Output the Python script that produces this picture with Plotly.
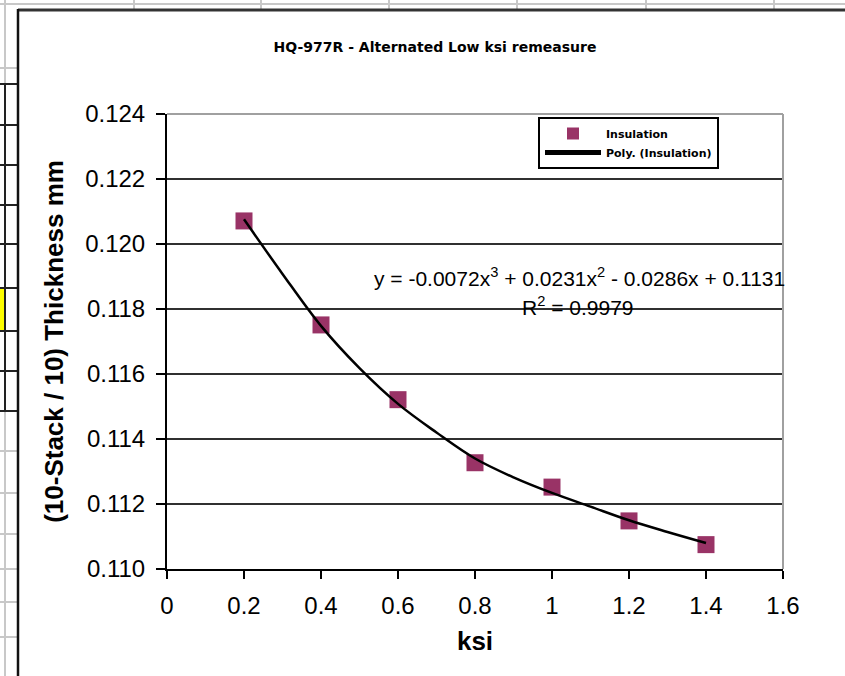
import plotly.graph_objects as go

# ---- data ----
ksi = [0.2, 0.4, 0.6, 0.8, 1.0, 1.2, 1.4]
thickness = [0.12071, 0.11751, 0.11521, 0.11327, 0.11252, 0.11148, 0.11075]

trend_x = [0.2, 0.3, 0.4, 0.5, 0.6, 0.7, 0.8, 0.9, 1.0, 1.1, 1.2, 1.3, 1.4]
trend_y = [0.12076, 0.11908, 0.11748, 0.11618, 0.11508, 0.11420, 0.11340,
           0.11282, 0.11234, 0.11192, 0.11150, 0.11114, 0.11080]

title_text = "HQ-977R - Alternated Low ksi remeasure"
x_title = "ksi"
y_title = "(10-Stack / 10) Thickness mm"
eq_line1 = "y = -0.0072x<sup>3</sup> + 0.0231x<sup>2</sup> - 0.0286x + 0.1131"
eq_line2 = "R<sup>2</sup> = 0.9979"

# ---- layout geometry (pixels) ----
W, H = 845, 676
L, R, T, B = 167, 62, 114, 107
PW, PH = W - L - R, H - T - B


def px(x):
    return (x - L) / PW


def py(y):
    return (H - B - y) / PH


fig = go.Figure()
fig.add_trace(go.Scatter(
    x=ksi, y=thickness, mode="markers", name="Insulation",
    marker=dict(symbol="square", size=17, color="#993366"),
))
fig.add_trace(go.Scatter(
    x=trend_x, y=trend_y, mode="lines", name="Poly. (Insulation)",
    line=dict(color="black", width=2.5, shape="spline"),
))

shapes = []
grid_c = "#c8c8c8"
# spreadsheet grid: top strip
shapes.append(dict(type="line", xref="paper", yref="paper", x0=px(0), x1=px(W), y0=py(4), y1=py(4),
                   line=dict(color=grid_c, width=2)))
for vx in [5, 134, 261, 389, 517, 646, 774]:
    shapes.append(dict(type="line", xref="paper", yref="paper", x0=px(vx), x1=px(vx), y0=py(0), y1=py(9),
                       line=dict(color=grid_c, width=2)))
# left strip
shapes.append(dict(type="line", xref="paper", yref="paper", x0=px(5), x1=px(5), y0=py(0), y1=py(84),
                   line=dict(color=grid_c, width=2)))
shapes.append(dict(type="line", xref="paper", yref="paper", x0=px(5), x1=px(5), y0=py(411), y1=py(H),
                   line=dict(color=grid_c, width=2)))
for hy in [68, 451, 493, 534, 569, 602, 637]:
    shapes.append(dict(type="line", xref="paper", yref="paper", x0=px(0), x1=px(18), y0=py(hy), y1=py(hy),
                       line=dict(color=grid_c, width=2)))
# yellow cell
shapes.append(dict(type="rect", xref="paper", yref="paper", x0=px(-2), x1=px(5), y0=py(331), y1=py(288),
                   fillcolor="#ffff00", line=dict(color="black", width=2)))
shapes.append(dict(type="line", xref="paper", yref="paper", x0=px(5), x1=px(5), y0=py(84), y1=py(411),
                   line=dict(color="#222", width=2)))
for hy in [84, 125, 165, 205, 244, 288, 331, 371, 411]:
    shapes.append(dict(type="line", xref="paper", yref="paper", x0=px(0), x1=px(18), y0=py(hy), y1=py(hy),
                       line=dict(color="#222", width=2)))
# chart area border
shapes.append(dict(type="line", xref="paper", yref="paper", x0=px(18), x1=px(W + 5), y0=py(10), y1=py(10),
                   line=dict(color="#333", width=3)))
shapes.append(dict(type="line", xref="paper", yref="paper", x0=px(18), x1=px(18), y0=py(9), y1=py(H + 5),
                   line=dict(color="#111", width=2.5)))
# plot area border (top & right, gray)
shapes.append(dict(type="line", xref="paper", yref="paper", x0=0, x1=1, y0=1, y1=1,
                   line=dict(color="#a0a0a0", width=2), layer="above"))
shapes.append(dict(type="line", xref="paper", yref="paper", x0=1, x1=1, y0=0, y1=1,
                   line=dict(color="#a0a0a0", width=2), layer="above"))

annotations = [
    dict(text=eq_line1, xref="paper", yref="paper", x=px(579), y=py(277), xanchor="center", yanchor="middle",
         showarrow=False, font=dict(family="Liberation Sans, Arial", size=21, color="black")),
    dict(text=eq_line2, xref="paper", yref="paper", x=px(578), y=py(306), xanchor="center", yanchor="middle",
         showarrow=False, font=dict(family="Liberation Sans, Arial", size=21, color="black")),
]

fig.update_layout(
    width=W, height=H,
    margin=dict(l=L, r=R, t=T, b=B, autoexpand=False),
    paper_bgcolor="white", plot_bgcolor="white",
    font=dict(family="Liberation Sans, Arial", color="black"),
    title=dict(text=title_text, x=px(435), xref="paper", xanchor="center", y=1 - 47 / H, yref="container",
               yanchor="middle", font=dict(family="DejaVu Sans", size=14, weight="bold", color="black")),
    showlegend=True,
    legend=dict(x=px(538), y=py(117), xanchor="left", yanchor="top", bgcolor="white",
                bordercolor="black", borderwidth=2, itemsizing="constant", itemwidth=56,
                font=dict(family="DejaVu Sans", size=11, weight="bold", color="black")),
    shapes=shapes,
    annotations=annotations,
    xaxis=dict(range=[0, 1.6], dtick=0.2, tick0=0, showgrid=False, zeroline=False,
               showline=True, linecolor="black", linewidth=2,
               ticks="outside", ticklen=8, tickwidth=2, tickcolor="black",
               ticklabelstandoff=6,
               tickfont=dict(size=24, color="black"),
               title=dict(text=x_title, font=dict(size=26, weight="bold", color="black"), standoff=14)),
    yaxis=dict(range=[0.110, 0.124], dtick=0.002, tick0=0.110, tickformat=".3f",
               showgrid=True, gridcolor="#303030", gridwidth=2, zeroline=False,
               showline=True, linecolor="black", linewidth=2,
               ticks="outside", ticklen=9, tickwidth=2, tickcolor="black",
               ticklabelstandoff=6,
               tickfont=dict(size=24, color="black"),
               title=dict(text=y_title, font=dict(size=26, weight="bold", color="black"), standoff=14)),
)

fig.write_html("out.html", config={"displayModeBar": False},
               post_script="document.body.style.margin='0';document.body.style.overflow='hidden';")
